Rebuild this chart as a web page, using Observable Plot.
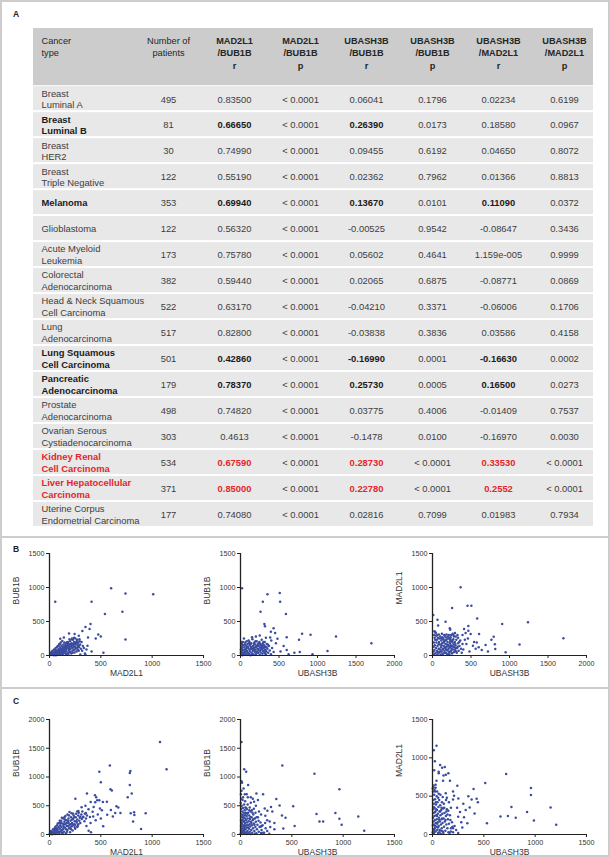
<!DOCTYPE html>
<html><head><meta charset="utf-8">
<script src="https://cdn.jsdelivr.net/npm/d3@7"></script>
<script src="https://cdn.jsdelivr.net/npm/@observablehq/plot@0.6"></script>
<style>
body{margin:0;background:#fff;}
#fig{position:relative;width:610px;height:857px;background:#fff;font-family:"Liberation Sans",Arial,sans-serif;overflow:hidden}
.line{position:absolute;background:#cdcdcd}
.plbl{position:absolute;font-weight:bold;font-size:8.5px;color:#222;font-family:"Liberation Sans",Arial,sans-serif}
.panel{position:absolute}
.panel svg{background:transparent !important;overflow:visible !important}
</style></head>
<body><div id="fig"></div>
<script>
// ---------- Table data (panel A) ----------
const columnKeys = ["type","patients","mbr","mbp","ubr","ubp","umr","ump"];
const columnHeaders = ["Cancer\ntype","Number of\npatients","MAD2L1\n/BUB1B\nr","MAD2L1\n/BUB1B\np","UBASH3B\n/BUB1B\nr","UBASH3B\n/BUB1B\np","UBASH3B\n/MAD2L1\nr","UBASH3B\n/MAD2L1\np"];
const cancerTypes = ["Breast\nLuminal A","Breast\nLuminal B","Breast\nHER2","Breast\nTriple Negative","Melanoma","Glioblastoma","Acute Myeloid\nLeukemia","Colorectal\nAdenocarcinoma","Head & Neck Squamous\nCell Carcinoma","Lung\nAdenocarcinoma","Lung Squamous\nCell Carcinoma","Pancreatic\nAdenocarcinoma","Prostate\nAdenocarcinoma","Ovarian Serous\nCystiadenocarcinoma","Kidney Renal\nCell Carcinoma","Liver Hepatocellular\nCarcinoma","Uterine Corpus\nEndometrial Carcinoma"];
const patients = [495,81,30,122,353,122,173,382,522,517,501,179,498,303,534,371,177];
const mad2l1Bub1bR = ["0.83500","0.66650","0.74990","0.55190","0.69940","0.56320","0.75780","0.59440","0.63170","0.82800","0.42860","0.78370","0.74820","0.4613","0.67590","0.85000","0.74080"];
const mad2l1Bub1bP = ["< 0.0001","< 0.0001","< 0.0001","< 0.0001","< 0.0001","< 0.0001","< 0.0001","< 0.0001","< 0.0001","< 0.0001","< 0.0001","< 0.0001","< 0.0001","< 0.0001","< 0.0001","< 0.0001","< 0.0001"];
const ubash3bBub1bR = ["0.06041","0.26390","0.09455","0.02362","0.13670","-0.00525","0.05602","0.02065","-0.04210","-0.03838","-0.16990","0.25730","0.03775","-0.1478","0.28730","0.22780","0.02816"];
const ubash3bBub1bP = ["0.1796","0.0173","0.6192","0.7962","0.0101","0.9542","0.4641","0.6875","0.3371","0.3836","0.0001","0.0005","0.4006","0.0100","< 0.0001","< 0.0001","0.7099"];
const ubash3bMad2l1R = ["0.02234","0.18580","0.04650","0.01366","0.11090","-0.08647","1.159e-005","-0.08771","-0.06006","0.03586","-0.16630","0.16500","-0.01409","-0.16970","0.33530","0.2552","0.01983"];
const ubash3bMad2l1P = ["0.6199","0.0967","0.8072","0.8813","0.0372","0.3436","0.9999","0.0869","0.1706","0.4158","0.0002","0.0273","0.7537","0.0030","< 0.0001","< 0.0001","0.7934"];
const rowGroup = ["none","highlight","none","none","highlight","none","none","none","none","none","highlight","highlight","none","none","key","key","none"];

// ---------- Scatter data (panels B, C) ----------
const ticks1500 = [0,500,1000,1500];
const ticks2000 = [0,500,1000,1500,2000];
// B1: MAD2L1 (x) vs BUB1B (y)
const b1Points = [[12,8],[20,30],[28,12],[35,45],[40,5],[48,25],[52,60],[58,14],[63,38],[70,8],[72,75],[78,50],[84,22],[88,95],[92,40],[96,64],[100,10],[104,118],[108,80],[112,30],[116,55],[120,140],[124,96],[128,18],[132,70],[136,160],[140,110],[144,44],[148,85],[152,130],[156,24],[160,180],[164,62],[168,100],[172,150],[176,36],[180,200],[184,120],[188,75],[192,165],[196,50],[200,210],[204,95],[208,140],[212,30],[216,180],[220,115],[224,70],[228,230],[232,155],[236,90],[240,200],[244,45],[248,130],[252,250],[256,175],[260,105],[264,60],[268,220],[272,150],[276,85],[280,190],[286,120],[292,240],[298,160],[305,100],[312,200],[318,70],[325,140],[335,110],[345,30],[360,90],[30,70],[45,90],[60,110],[65,20],[80,140],[95,170],[110,190],[125,215],[135,40],[150,60],[165,20],[185,25],[205,55],[225,40],[245,85],[265,110],[285,70],[300,15],[55,85],[75,125],[90,145],[105,160],[115,85],[130,105],[145,190],[155,150],[170,125],[190,95],[195,240],[210,170],[230,120],[250,160],[270,180],[290,150],[240,260],[220,250],[180,170],[160,95],[140,75],[120,50],[100,35],[80,15],[60,5],[30,20],[15,40],[22,55],[38,30],[50,40],[68,60],[86,72],[102,88],[118,100],[134,128],[150,110],[166,140],[182,150],[198,130],[214,150],[230,170],[246,190],[262,200],[278,130],[294,210],
[56,790],[410,790],[600,990],[740,910],[1010,900],[710,645],[540,610],[740,235],[400,465],[350,420],[390,390],[320,360],[475,310],[500,280],[450,250],[375,265],[285,290],[270,230],[370,145],[410,60],[525,40],[350,10],[190,325],[245,315],[220,235],[140,265],[105,245],[170,195]];
// B2: UBASH3B (x) vs BUB1B (y)
const b2Points = [[10,20],[15,60],[20,110],[25,5],[30,40],[35,150],[40,80],[45,15],[50,120],[55,55],[60,190],[65,30],[70,95],[75,140],[80,10],[85,70],[90,170],[95,45],[100,110],[105,220],[110,25],[115,85],[120,150],[125,60],[130,5],[135,125],[140,180],[145,35],[150,95],[155,240],[160,70],[165,140],[170,15],[175,110],[180,190],[185,50],[190,160],[195,85],[200,20],[205,130],[210,210],[215,60],[220,100],[225,170],[230,35],[235,140],[240,75],[245,200],[250,10],[255,115],[260,160],[265,45],[270,90],[275,230],[280,130],[285,25],[290,180],[295,70],[300,110],[305,150],[310,40],[315,200],[320,90],[325,130],[330,15],[335,60],[340,170],[350,100],[360,40],[370,140],[380,75],[395,20],[410,110],[430,50],[20,170],[30,200],[45,250],[60,90],[80,210],[95,130],[110,180],[130,100],[150,20],[175,170],[195,210],[210,140],[230,95],[250,180],[265,120],[285,150],[300,60],[320,30],[340,120],[355,160],[15,130],[25,85],[42,35],[58,160],[72,60],[88,120],[102,30],[118,200],[132,170],[148,130],[162,10],[178,80],[192,120],[208,45],[222,140],[238,180],[252,70],[268,150],[282,100],[298,200],[312,130],[328,70],[5,90],[5,40],[8,160],[12,200],
[20,990],[350,900],[510,920],[515,790],[290,790],[260,645],[590,610],[310,465],[318,430],[430,400],[395,350],[250,295],[450,330],[385,265],[600,270],[760,233],[800,320],[910,305],[1240,280],[1700,180],[1130,65],[935,20],[770,50],[600,80],[625,20],[480,245],[560,140],[520,60],[700,40],[460,180],[400,220],[200,280],[330,260],[150,270]];
// B3: UBASH3B (x) vs MAD2L1 (y)
const b3Points = [[20,20],[25,80],[30,150],[35,230],[40,40],[45,110],[50,190],[55,10],[60,70],[65,140],[70,260],[75,30],[80,100],[85,200],[90,50],[95,160],[100,280],[105,15],[110,120],[115,220],[120,60],[125,180],[130,90],[135,250],[140,30],[145,140],[150,210],[155,70],[160,290],[165,110],[170,170],[175,40],[180,230],[185,130],[190,80],[195,200],[200,20],[205,150],[210,100],[215,250],[220,50],[225,180],[230,120],[235,270],[240,70],[245,210],[250,140],[255,30],[260,190],[265,90],[270,240],[275,160],[280,50],[285,120],[290,200],[295,80],[300,150],[310,230],[315,40],[320,110],[330,180],[340,70],[350,140],[360,220],[370,100],[380,40],[390,170],[400,90],[15,130],[18,190],[28,260],[48,290],[58,230],[78,170],[88,250],[108,60],[118,150],[128,270],[138,100],[148,190],[158,130],[168,220],[178,90],[188,160],[198,250],[208,60],[218,130],[228,210],[238,150],[248,100],[258,220],[268,130],[278,280],[288,170],[298,110],[308,60],[328,130],[348,200],[68,50],[98,90],[128,20],[158,40],[188,10],[218,20],[248,40],[12,60],[22,300],[42,330],[62,300],[82,310],[122,320],[152,300],[182,310],[212,300],[242,300],[272,300],[302,280],[332,260],[262,320],[292,330],[112,250],[142,240],[172,270],[202,280],[232,240],
[10,595],[365,1005],[255,700],[455,730],[505,730],[65,525],[73,440],[170,495],[25,355],[35,345],[225,400],[230,380],[580,545],[905,462],[1240,490],[1700,252],[1130,160],[950,48],[815,97],[810,165],[765,233],[795,276],[690,155],[720,58],[605,315],[575,190],[525,145],[560,100],[465,365],[430,330],[410,390],[390,300],[325,300],[495,315],[460,250],[465,435],[540,200],[600,120],[640,80],[480,60],[440,170],[420,230]];
// C1: MAD2L1 (x) vs BUB1B (y)
const c1Points = [[10,10],[20,30],[25,5],[30,50],[40,20],[45,70],[50,40],[55,10],[60,90],[65,60],[70,25],[75,110],[80,80],[85,45],[90,130],[95,15],[100,100],[105,160],[110,60],[115,130],[120,30],[125,190],[130,90],[135,150],[140,50],[145,220],[150,120],[155,180],[160,20],[165,250],[170,150],[175,80],[180,210],[185,280],[190,110],[195,170],[200,40],[205,240],[210,300],[215,140],[220,200],[225,70],[230,270],[235,330],[240,180],[245,230],[250,100],[255,300],[260,360],[265,210],[270,260],[275,150],[280,330],[285,380],[290,240],[295,290],[300,200],[310,350],[315,270],[320,400],[330,310],[340,230],[345,360],[355,280],[365,330],[15,60],[35,90],[55,120],[75,160],[95,200],[115,240],[135,280],[155,320],[175,350],[195,390],[215,370],[120,80],[140,120],[160,90],[180,150],[200,120],[220,260],[240,300],[260,230],[280,180],[300,310],[60,20],[90,40],[130,30],[170,50],[210,90],[250,170],[270,130],[110,200],[150,260],[190,330],[230,360],[270,400],[100,50],[140,180],[180,240],[60,140],[80,190],[100,240],[120,290],[145,300],[165,200],[185,200],[205,180],[225,160],[245,130],[5,20],[12,50],[35,25],[48,100],
[1076,1610],[1140,1136],[588,1200],[485,1090],[500,908],[788,1103],[782,1071],[782,863],[801,714],[762,649],[594,785],[607,766],[365,714],[252,623],[443,681],[455,650],[485,597],[401,564],[520,564],[559,571],[652,493],[670,470],[598,428],[562,344],[640,376],[691,376],[617,311],[791,370],[824,389],[827,337],[937,370],[814,227],[892,97],[523,143],[420,396],[426,311],[491,454],[510,420],[394,305],[381,65],[404,39],[355,376],[313,474],[325,300],[281,409],[465,597],[445,560],[430,480],[380,440],[350,500],[470,350],[500,280],[450,250],[400,200],[360,150]];
// C2: UBASH3B (x) vs BUB1B (y)
const c2Points = [[3,20],[5,80],[5,150],[6,250],[8,350],[8,450],[10,40],[10,200],[12,300],[12,500],[15,110],[15,400],[18,10],[18,180],[20,260],[20,600],[22,70],[22,340],[25,140],[25,460],[28,30],[28,220],[30,380],[32,100],[32,290],[35,160],[35,520],[38,50],[38,240],[40,420],[42,130],[42,330],[45,20],[45,200],[48,280],[48,470],[50,90],[52,380],[55,160],[55,250],[58,40],[60,320],[62,120],[62,440],[65,210],[68,60],[70,280],[72,160],[75,380],[78,20],[80,230],[82,100],[85,330],[88,180],[90,50],[92,270],[95,140],[98,400],[100,220],[105,80],[108,300],[112,160],[115,30],[118,250],[122,110],[125,350],[130,190],[135,60],[140,280],[145,130],[150,220],[155,20],[160,90],[165,170],[170,300],[178,50],[185,130],[195,210],[205,80],[215,160],[230,30],[245,110],[260,60],[280,15],[2,550],[4,700],[6,620],[10,760],[15,900],[25,650],[45,580],[70,520],[90,470],[110,420],[130,450],[14,240],[26,300],[36,80],[46,360],[56,460],[66,360],[76,120],[86,420],[96,300],[106,200],[116,380],[126,270],[136,170],[146,380],[156,300],[176,240],[196,140],[16,50],[30,20],[60,10],[100,10],[140,15],[200,25],
[10,1610],[36,1136],[55,1090],[10,928],[74,863],[71,649],[42,701],[100,649],[132,571],[155,714],[220,701],[100,551],[407,1200],[720,1058],[963,785],[349,616],[381,506],[513,493],[404,331],[439,292],[417,104],[527,149],[740,357],[769,227],[805,227],[924,376],[963,272],[985,169],[1147,311],[1205,65],[297,480],[310,402],[262,415],[236,454],[242,324],[284,227],[290,130],[330,200],[204,143],[220,32],[260,250],[180,400],[200,350],[240,200],[330,90],[150,500],[170,600],[120,620],[60,700],[30,800]];
// C3: UBASH3B (x) vs MAD2L1 (y)
const c3Points = [[3,30],[4,120],[5,220],[6,330],[7,450],[8,70],[10,170],[10,280],[12,400],[14,20],[15,130],[16,520],[18,240],[20,350],[22,80],[24,190],[25,460],[28,300],[30,40],[32,150],[34,390],[36,250],[38,100],[40,500],[42,200],[44,320],[46,60],[48,420],[50,160],[52,270],[55,20],[58,360],[60,110],[62,220],[65,450],[68,300],[70,60],[72,170],[75,380],[78,250],[80,10],[82,130],[85,320],[88,200],[90,80],[92,420],[95,270],[98,150],[100,40],[104,340],[108,210],[112,100],[116,280],[120,170],[125,50],[130,240],[135,130],[140,330],[145,80],[150,200],[155,30],[160,140],[170,250],[180,80],[190,160],[200,30],[215,110],[230,60],[250,20],[2,600],[5,560],[9,640],[20,580],[30,610],[45,560],[60,530],[15,30],[26,110],[46,140],[66,30],[86,50],[106,20],[126,190],[146,260],[166,20],[22,290],[44,240],[66,190],[88,350],[110,400],[132,450],[11,360],[33,420],[55,480],[77,520],[99,490],[7,10],[18,60],[35,330],[54,90],[74,300],[94,210],[114,350],[134,300],[154,310],[174,190],[194,100],
[39,1156],[13,1098],[23,956],[16,838],[74,906],[94,872],[61,799],[103,700],[107,769],[155,799],[130,780],[39,700],[30,650],[10,612],[25,560],[717,789],[514,671],[959,608],[959,515],[400,593],[442,421],[430,465],[381,456],[349,500],[242,637],[210,505],[129,539],[200,456],[252,470],[268,294],[323,318],[362,353],[410,274],[530,147],[662,235],[734,240],[769,358],[811,220],[921,294],[988,181],[1150,353],[1205,127],[339,147],[307,225],[250,230],[280,160],[178,39],[200,80],[290,90],[240,350],[300,400],[180,350],[160,420],[140,480],[200,560],[170,700],[60,820],[120,880]];

// ---------- Page scaffolding ----------
const FONT = "'Liberation Sans', Arial, Helvetica, sans-serif";
const fig = document.getElementById("fig");
function addDiv(cls, css, text) {
  const d = document.createElement("div");
  d.className = cls;
  Object.assign(d.style, css);
  if (text) d.textContent = text;
  fig.appendChild(d);
  return d;
}
addDiv("line", {left:"0px", top:"0px", width:"610px", height:"2px"});
addDiv("line", {left:"0px", top:"855px", width:"610px", height:"2px"});
addDiv("line", {left:"0px", top:"0px", width:"2px", height:"857px"});
addDiv("line", {left:"608px", top:"0px", width:"2px", height:"857px"});
addDiv("line", {left:"0px", top:"536px", width:"610px", height:"2px"});
addDiv("line", {left:"0px", top:"687px", width:"610px", height:"2px"});
addDiv("plbl", {left:"13px", top:"9px"}, "A");
addDiv("plbl", {left:"13px", top:"544px"}, "B");
addDiv("plbl", {left:"13px", top:"696px"}, "C");

// ---------- Panel A: table ----------
const headerSpan = 2.2; // header height in row units
const pNum = s => s.trim().startsWith("<") ? 0 : +s;
const cells = [];
cancerTypes.forEach((name, i) => {
  const g = rowGroup[i];
  const vals = [name, String(patients[i]), mad2l1Bub1bR[i], mad2l1Bub1bP[i], ubash3bBub1bR[i], ubash3bBub1bP[i], ubash3bMad2l1R[i], ubash3bMad2l1P[i]];
  const sig = {2: true, 4: pNum(ubash3bBub1bP[i]) < 0.05, 6: pNum(ubash3bMad2l1P[i]) < 0.05};
  vals.forEach((v, j) => {
    let strong = false;
    if (g !== "none") {
      if (j === 0) strong = true;
      if (j === 2 || j === 4 || j === 6) strong = g === "key" ? true : sig[j];
    }
    const red = g === "key" && strong;
    cells.push({row: i, col: columnKeys[j], text: v, strong, color: red ? "#e3262c" : strong ? "#1b1b1b" : "#3d3d3d"});
  });
});
const headerCells = columnHeaders.map((h, j) => ({col: columnKeys[j], text: h, strong: j >= 2}));

const cellText = (data, anchor, weight) => Plot.text(data, {
  x: "col", y: d => d.row + 0.5, text: "text", fill: "color",
  textAnchor: anchor, dx: anchor === "start" ? -61 : 0,
  lineAnchor: "middle", lineHeight: 1.27, fontSize: 9.4, fontWeight: weight
});
const headText = (data, anchor, weight) => Plot.text(data, {
  x: "col", y: () => -headerSpan, text: "text", fill: "#262626",
  textAnchor: anchor, dx: anchor === "start" ? -61 : 0,
  lineAnchor: "top", dy: 6, lineHeight: 1.38, fontSize: 9.2, fontWeight: weight
});

const table = Plot.plot({
  width: 610, height: 536,
  marginLeft: 33, marginRight: 17, marginTop: 28, marginBottom: 9,
  x: {type: "point", domain: columnKeys, range: [99, 566], padding: 0, axis: null},
  y: {domain: [-headerSpan, cancerTypes.length], range: [28, 527], axis: null},
  color: {type: "identity"},
  style: {fontFamily: FONT, background: "transparent"},
  marks: [
    Plot.rect([null], {y1: () => -headerSpan, y2: () => 0, fill: "#cccccc"}),
    Plot.rect(cancerTypes, {y1: (d, i) => i, y2: (d, i) => i + 1, insetTop: 1, insetBottom: 1, fill: "#e8e8e9"}),
    headText(headerCells.filter(d => d.col === "type"), "start", "normal"),
    headText(headerCells.filter(d => d.col !== "type" && !d.strong), "middle", "normal"),
    headText(headerCells.filter(d => d.strong), "middle", "bold"),
    cellText(cells.filter(d => d.col === "type" && !d.strong), "start", "normal"),
    cellText(cells.filter(d => d.col === "type" && d.strong), "start", "bold"),
    cellText(cells.filter(d => d.col !== "type" && !d.strong), "middle", "normal"),
    cellText(cells.filter(d => d.col !== "type" && d.strong), "middle", "bold")
  ]
});
const tWrap = addDiv("panel", {left: "0px", top: "0px"});
tWrap.appendChild(table);

// ---------- Panels B and C: scatter plots ----------
function scatter({points, xTicks, yTicks, xLabel, yLabel, frameLeft, top, height, marginTop, marginBottom}) {
  const p = Plot.plot({
    width: 217, height,
    marginLeft: 49, marginRight: 14, marginTop, marginBottom,
    x: {domain: [0, d3.max(xTicks)]},
    y: {domain: [0, d3.max(yTicks)]},
    style: {fontFamily: FONT, fontSize: "7.2px", color: "#222", background: "transparent"},
    marks: [
      Plot.dot(points, {x: d => d[0], y: d => d[1], r: 1.25, fill: "#3a4c9f", stroke: "none"}),
      Plot.axisX(xTicks, {tickSize: 3, tickPadding: 2, tickFormat: d3.format("d"), label: null, stroke: "#222", fill: "#333"}),
      Plot.axisY(yTicks, {tickSize: 3, tickPadding: 2, tickFormat: d3.format("d"), label: null, stroke: "#222", fill: "#333"}),
      Plot.ruleX([0], {stroke: "#222", strokeWidth: 1.3}),
      Plot.ruleY([0], {stroke: "#222", strokeWidth: 1.1}),
      Plot.text([yLabel], {frameAnchor: "left", dx: -33, rotate: -90, fontSize: 8.5, fill: "#333333"}),
      Plot.text([xLabel], {frameAnchor: "bottom", dy: 20, fontSize: 8.5, fill: "#333333"})
    ]
  });
  const w = addDiv("panel", {left: (frameLeft - 49) + "px", top: top + "px"});
  w.appendChild(p);
}
const rowB = {top: 537, height: 151, marginTop: 16, marginBottom: 33};
const rowC = {top: 688, height: 167, marginTop: 31, marginBottom: 21};
scatter({points: b1Points, xTicks: ticks1500, yTicks: ticks1500, xLabel: "MAD2L1", yLabel: "BUB1B", frameLeft: 49, ...rowB});
scatter({points: b2Points, xTicks: ticks2000, yTicks: ticks1500, xLabel: "UBASH3B", yLabel: "BUB1B", frameLeft: 240, ...rowB});
scatter({points: b3Points, xTicks: ticks2000, yTicks: ticks1500, xLabel: "UBASH3B", yLabel: "MAD2L1", frameLeft: 432, ...rowB});
scatter({points: c1Points, xTicks: ticks1500, yTicks: ticks2000, xLabel: "MAD2L1", yLabel: "BUB1B", frameLeft: 49, ...rowC});
scatter({points: c2Points, xTicks: ticks1500, yTicks: ticks2000, xLabel: "UBASH3B", yLabel: "BUB1B", frameLeft: 240, ...rowC});
scatter({points: c3Points, xTicks: ticks1500, yTicks: ticks1500, xLabel: "UBASH3B", yLabel: "MAD2L1", frameLeft: 432, ...rowC});
</script>
</body></html>
